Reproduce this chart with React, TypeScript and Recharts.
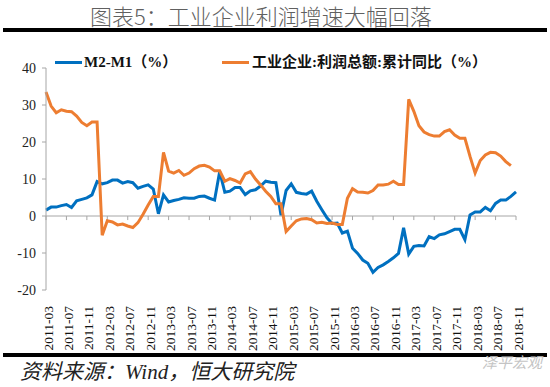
import React from 'react';
import { LineChart, Line, XAxis, YAxis, ReferenceLine } from 'recharts';

// months 2011-03 .. 2018-11
const START_YEAR = 2011;
const START_MONTH = 3;
const COUNT = 93;
const months: string[] = [];
for (let i = 0; i < COUNT; i++) {
  const m = START_MONTH - 1 + i;
  const y = START_YEAR + Math.floor(m / 12);
  months.push(`${y}-${String((m % 12) + 1).padStart(2, '0')}`);
}

// M2-M1 (%)
const m2m1 = [
  1.6, 2.4, 2.4, 2.8, 3.1, 2.3, 4.1, 4.5, 4.9, 5.7,
  9.3, 8.7, 9.0, 9.7, 9.7, 8.9, 9.3, 9.0, 7.5, 8.0, 8.4, 7.3,
  0.6, 5.7, 3.8, 4.2, 4.5, 4.9, 4.8, 4.8, 5.3, 5.4, 4.8, 4.3,
  12.0, 6.4, 6.7, 7.7, 7.7, 5.8, 6.8, 7.1, 8.1, 9.4, 9.1, 9.0,
  0.2, 6.9, 8.7, 6.4, 6.1, 5.9, 6.7, 4.0, 1.7, -0.5, -2.0, -1.9,
  -4.6, -4.1, -8.7, -10.1, -11.9, -12.8, -15.2, -13.9, -13.2, -12.3, -11.3, -10.1,
  -3.2, -10.3, -8.2, -8.0, -8.1, -5.6, -6.1, -5.1, -4.8, -4.2, -3.6, -3.6,
  -6.4, 0.3, 1.1, 1.1, 2.3, 1.4, 3.4, 4.3, 4.3, 5.3, 6.5,
];

// 工业企业:利润总额:累计同比 (%)
const profit: (number | null)[] = [
  33.5, 29.7, 27.9, 28.7, 28.3, 28.2, 27.0, 25.3, 24.4, 25.4,
  25.4, -5.2, -1.3, -1.6, -2.4, -2.2, -2.7, -3.1, -1.8, 0.5, 3.0, 5.3,
  5.3, 17.2, 12.1, 11.6, 12.3, 11.0, 11.6, 12.8, 13.5, 13.7, 13.2, 12.2,
  12.2, 9.4, 10.1, 9.6, 8.9, 11.4, 12.0, 10.0, 8.4, 6.7, 5.3, 3.3,
  3.3, -4.2, -2.7, -1.3, -0.8, -0.7, -1.0, -1.9, -1.7, -2.0, -1.9, -2.3,
  -2.3, 4.8, 7.4, 6.5, 6.4, 6.2, 6.9, 8.4, 8.4, 8.6, 9.4, 8.5,
  8.5, 31.5, 28.3, 24.4, 22.7, 22.0, 21.6, 21.6, 22.8, 23.3, 21.9, 21.0,
  21.0, 16.1, 11.6, 15.0, 16.5, 17.2, 17.1, 16.2, 14.7, 13.6, null,
];

const yTicks = [-20, -10, 0, 10, 20, 30, 40];
const tickMonths = months.filter((_, i) => i % 4 === 0);

const data = months.map((month, i) => ({ month, m2m1: m2m1[i], profit: profit[i] }));

const BLUE = '#0070C0';
const ORANGE = '#ED7D31';
const AXIS = '#a6a6a6';
const SERIF = '"Liberation Serif", "Noto Sans CJK SC", serif';

const XTick = (props: any) => {
  const { x, y, payload } = props;
  return (
    <g transform={`translate(${x},${y + 8}) rotate(-90)`}>
      <text x={0} y={0} dy={2} textAnchor="end" dominantBaseline="central"
        fontFamily="Liberation Serif" fontSize={13.5} fill="#111">
        {payload.value}
      </text>
    </g>
  );
};

export default function App() {
  return (
    <div style={{ position: 'absolute', left: 0, top: 0, width: 550, height: 387, background: '#fff', overflow: 'hidden', fontFamily: SERIF }}>
      <div style={{ position: 'absolute', left: 90, top: 0, height: 30, lineHeight: '30px', fontSize: 22, color: '#606060', fontFamily: '"Noto Sans CJK SC", sans-serif', fontWeight: 300, whiteSpace: 'nowrap' }}>
        图表5：工业企业利润增速大幅回落
      </div>
      <div style={{ position: 'absolute', left: 3, top: 28, width: 544, height: 4, background: '#000' }} />

      {/* legend */}
      <div style={{ position: 'absolute', left: 55, top: 61, width: 27, height: 3, background: BLUE }} />
      <div style={{ position: 'absolute', left: 84, top: 52, lineHeight: '20px', fontSize: 15, fontWeight: 'bold', color: '#111', whiteSpace: 'nowrap' }}>
        M2-M1（%）
      </div>
      <div style={{ position: 'absolute', left: 222, top: 61, width: 27, height: 3, background: ORANGE }} />
      <div style={{ position: 'absolute', left: 252, top: 52, lineHeight: '20px', fontSize: 15, fontWeight: 'bold', color: '#111', whiteSpace: 'nowrap' }}>
        工业企业:利润总额:累计同比（%）
      </div>

      <div style={{ position: 'absolute', left: 0, top: 0 }}>
        <LineChart width={550} height={387} data={data} margin={{ top: 68, right: 34, bottom: 30, left: 6 }}>
          <XAxis dataKey="month" height={67} interval={3} axisLine={false} tickLine={false} tick={<XTick />} />
          <YAxis width={40} domain={[-20, 40]} ticks={yTicks} interval={0} tickSize={4} tickMargin={6}
            axisLine={{ stroke: AXIS }} tickLine={{ stroke: AXIS }}
            tick={{ fontFamily: 'Liberation Serif', fontSize: 14, fill: '#222' }} />
          <ReferenceLine y={0} stroke={AXIS} strokeWidth={1} />
          {tickMonths.map((m) => (
            <ReferenceLine key={m} segment={[{ x: m, y: 0 }, { x: m, y: -1.1 }]} stroke={AXIS} strokeWidth={1} />
          ))}
          <Line type="linear" dataKey="m2m1" stroke={BLUE} strokeWidth={3} dot={false} isAnimationActive={false} />
          <Line type="linear" dataKey="profit" stroke={ORANGE} strokeWidth={3} dot={false} isAnimationActive={false} />
        </LineChart>
      </div>

      <div style={{ position: 'absolute', left: 3, top: 353, width: 544, height: 4, background: '#000' }} />
      <div style={{ position: 'absolute', left: 482, top: 352, lineHeight: '20px', fontSize: 15, color: '#c4c4c4', fontFamily: '"Noto Sans CJK SC", sans-serif', fontStyle: 'italic', whiteSpace: 'nowrap' }}>
        泽平宏观
      </div>
      <div style={{ position: 'absolute', left: 20, top: 359, lineHeight: '26px', fontSize: 21, fontStyle: 'italic', color: '#222', whiteSpace: 'nowrap' }}>
        资料来源：Wind，恒大研究院
      </div>
    </div>
  );
}
